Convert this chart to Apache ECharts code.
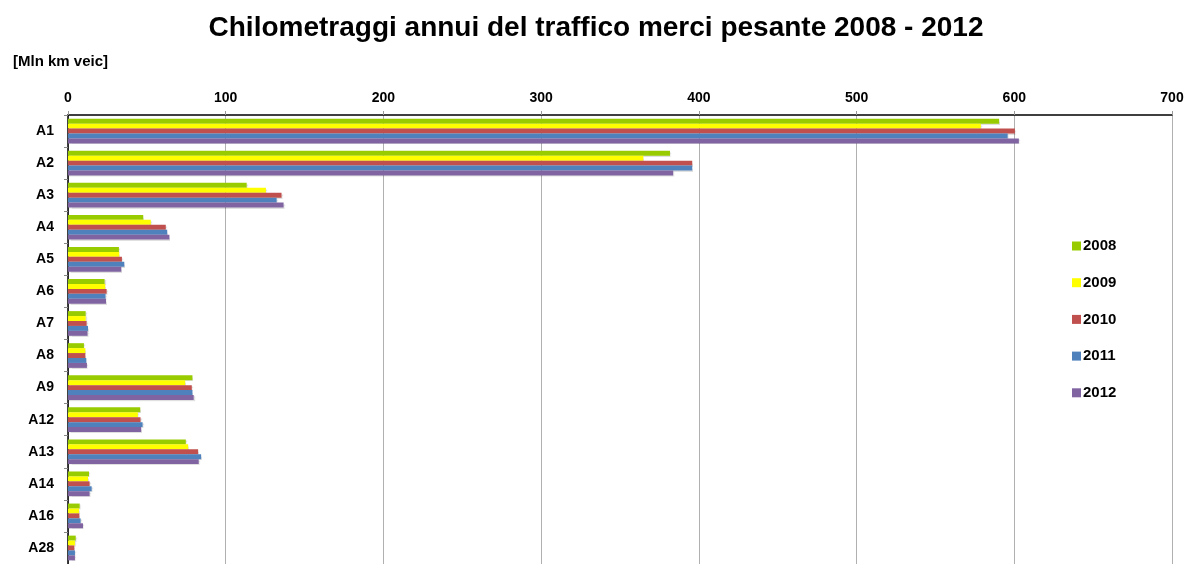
<!DOCTYPE html>
<html>
<head>
<meta charset="utf-8">
<script src="https://cdn.jsdelivr.net/npm/echarts@6/dist/echarts.min.js"></script>
<style>
  html, body { margin: 0; padding: 0; background: #fff; }
  #chart { width: 1192px; height: 564px; }
</style>
</head>
<body>
<div id="chart"></div>
<script>
// tratte autostradali
var categories = ['A1', 'A2', 'A3', 'A4', 'A5', 'A6', 'A7', 'A8', 'A9', 'A12', 'A13', 'A14', 'A16', 'A28'];
var years = ['2008', '2009', '2010', '2011', '2012'];
var colors = ['#99CC00', '#FFFF00', '#C0504D', '#4F81BD', '#8064A2'];
var xTicks = [0, 100, 200, 300, 400, 500, 600, 700];

// Mln km veic
var v2008 = [590.4, 381.7, 113.3, 47.7, 32.3, 23.2, 11.2, 10.1, 78.9, 45.8, 74.7, 13.3, 7.4, 4.9];
var v2009 = [578.8, 364.8, 125.5, 52.5, 32.5, 23.6, 11.2, 11.0, 74.3, 44.3, 76.2, 12.7, 7.0, 4.4];
var v2010 = [600.4, 395.8, 135.4, 62.0, 34.2, 24.5, 11.8, 11.0, 78.5, 46.0, 82.5, 13.7, 7.2, 4.0];
var v2011 = [595.8, 395.8, 132.3, 62.9, 35.7, 23.8, 12.7, 11.6, 78.9, 47.3, 84.4, 15.0, 8.0, 4.4];
var v2012 = [602.9, 383.7, 136.7, 64.3, 33.8, 24.1, 12.4, 12.0, 79.7, 46.4, 82.9, 13.7, 9.5, 4.4];
var values = [v2008, v2009, v2010, v2011, v2012];

var font = '"Liberation Sans", Arial, sans-serif';

var series = [];
for (var i = 0; i < years.length; i++) {
    series.push({
        name: years[i],
        type: 'bar',
        data: values[i],
        barGap: '0%',
        barCategoryGap: '23%',
        itemStyle: {
            color: colors[i],
            shadowColor: 'rgba(0,0,0,0.12)',
            shadowBlur: 1,
            shadowOffsetX: 1,
            shadowOffsetY: 1
        }
    });
}

var chart = echarts.init(document.getElementById('chart'));
var option = {
    animation: false,
    title: [{
        text: 'Chilometraggi annui del traffico merci pesante 2008 - 2012',
        left: 'center',
        top: 9,
        textStyle: { fontFamily: font, fontSize: 28, fontWeight: 'bold', color: '#000' }
    }, {
        text: '[Mln km veic]',
        left: 8,
        top: 49,
        textStyle: { fontFamily: font, fontSize: 15, fontWeight: 'bold', color: '#000' }
    }],
    legend: {
        orient: 'vertical',
        left: 1067,
        top: 233,
        itemWidth: 9,
        itemHeight: 9,
        itemGap: 20.7,
        icon: 'rect',
        data: years,
        textStyle: { fontFamily: font, fontSize: 15, fontWeight: 'bold', color: '#000', lineHeight: 16, padding: [0, 0, 0, -3] }
    },
    grid: {
        left: 68,
        right: 20,
        top: 115,
        height: 452
    },
    xAxis: {
        type: 'value',
        position: 'top',
        min: 0,
        max: 700,
        interval: 100,
        axisLine: { show: true, lineStyle: { color: '#000', width: 1.5 } },
        axisTick: { show: true, length: 4, lineStyle: { color: '#999' } },
        splitLine: { show: true, lineStyle: { color: '#B0B0B0', width: 1 } },
        axisLabel: {
            fontFamily: font, fontSize: 14, fontWeight: 'bold', color: '#000', margin: 10,
            formatter: function (v) { return xTicks.indexOf(v) >= 0 ? String(v) : ''; }
        }
    },
    yAxis: {
        type: 'category',
        data: categories,
        inverse: true,
        axisLine: { show: true, lineStyle: { color: '#000', width: 1.5 } },
        axisTick: { show: true, length: 4, lineStyle: { color: '#888' } },
        axisLabel: { fontFamily: font, fontSize: 14, fontWeight: 'bold', color: '#000', margin: 14 },
        splitLine: { show: false }
    },
    series: series
};
chart.setOption(option);
</script>
</body>
</html>
